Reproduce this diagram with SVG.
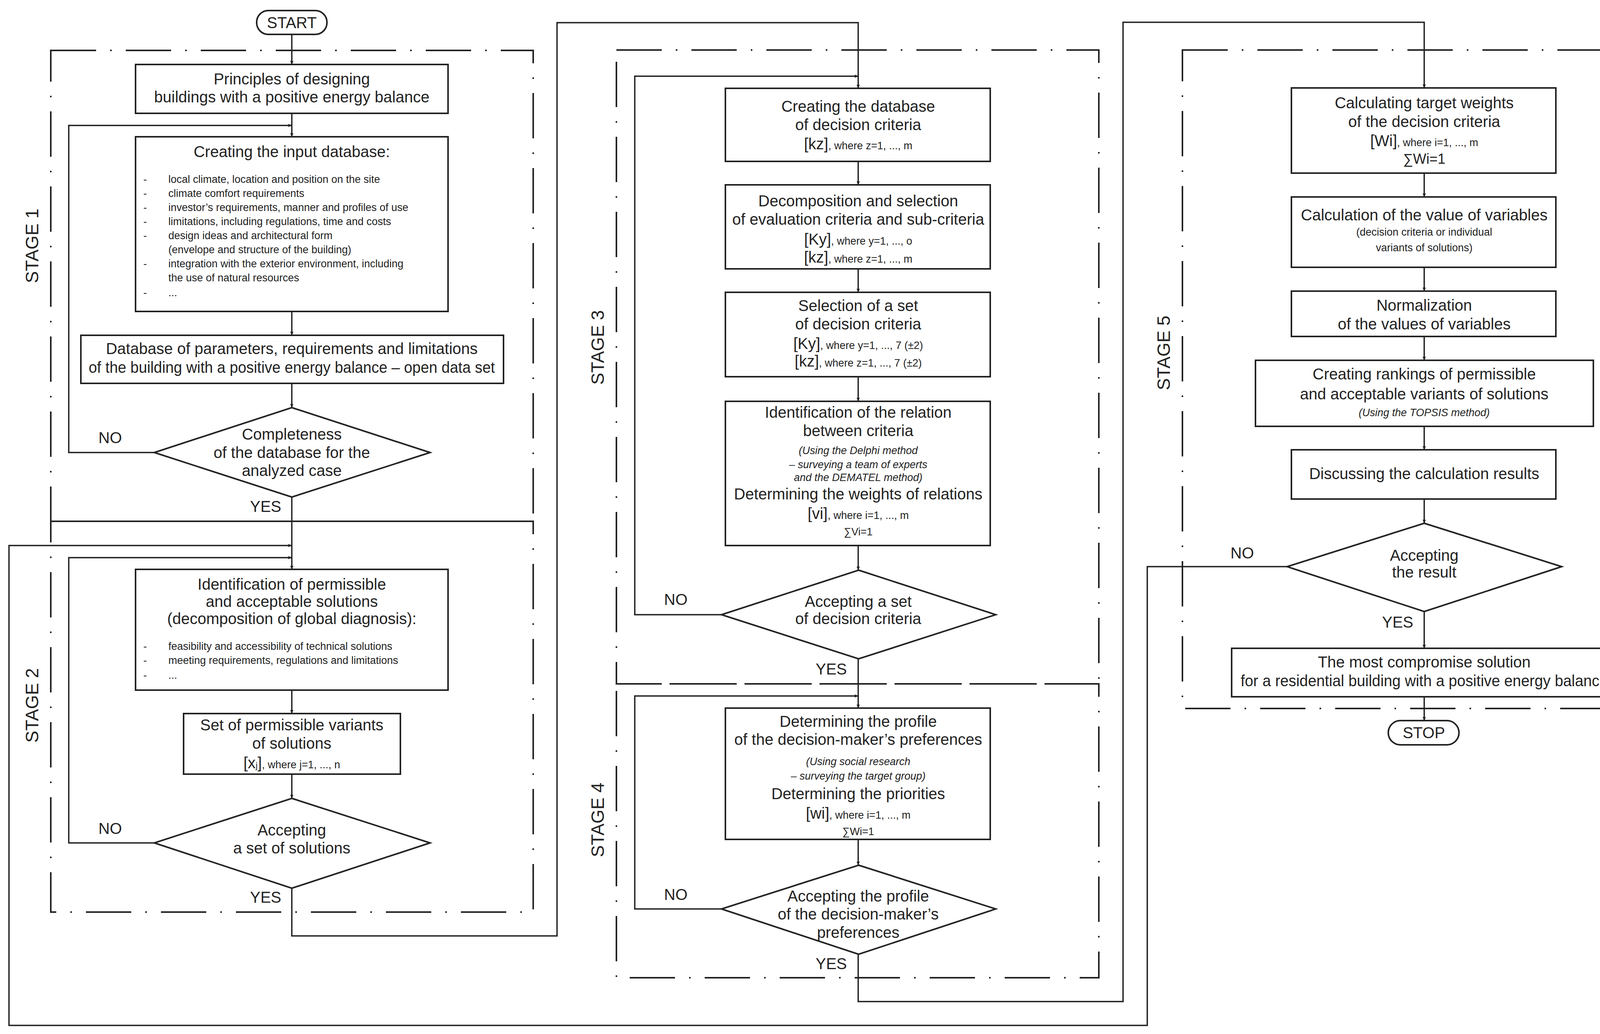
<svg xmlns="http://www.w3.org/2000/svg" width="4288" height="2646" viewBox="0 0 4288 2646">
<style>
.b{fill:#fff;stroke:#222;stroke-width:4}
.f{fill:none;stroke:#222;stroke-width:4;stroke-dasharray:116 36 4 36}
.c{fill:none;stroke:#222;stroke-width:3.5}
text{font-family:"Liberation Sans",Arial,sans-serif;fill:#222}
.t{font-size:40px;text-anchor:middle}
.s{font-size:27px}
.m{font-size:27px;text-anchor:middle}
.i{font-size:27px;text-anchor:middle;font-style:italic}
.st{font-size:46px;text-anchor:middle}
.l{font-size:40px}
</style>
<defs>
<marker id="a" markerWidth="10" markerHeight="10" refX="9" refY="5" orient="auto" markerUnits="userSpaceOnUse" viewBox="0 0 10 10"><path d="M0,1 L10,5 L0,9 Z" fill="#222"/></marker>
</defs>
<g id="frames">
<rect class="f" x="130" y="129" width="1235" height="1205"/>
<rect class="f" x="130" y="1334" width="1235" height="1000"/>
<rect class="f" x="1578" y="128" width="1235" height="1622"/>
<rect class="f" x="1578" y="1750" width="1235" height="752"/>
<rect class="f" x="3027" y="128" width="1235" height="1685"/>
<text class="st" transform="translate(98,629) rotate(-90)">STAGE 1</text>
<text class="st" transform="translate(98,1805) rotate(-90)">STAGE 2</text>
<text class="st" transform="translate(1546,889) rotate(-90)">STAGE 3</text>
<text class="st" transform="translate(1546,2098) rotate(-90)">STAGE 4</text>
<text class="st" transform="translate(2995,903) rotate(-90)">STAGE 5</text>
</g>
<g id="connectors">
<path class="c" marker-end="url(#a)" d="M747,88 V165"/>
<path class="c" marker-end="url(#a)" d="M747,290 V350"/>
<path class="c" marker-end="url(#a)" d="M395,1158 H176 V321 H747"/>
<path class="c" marker-end="url(#a)" d="M747,797 V858"/>
<path class="c" marker-end="url(#a)" d="M747,981 V1043"/>
<path class="c" marker-end="url(#a)" d="M747,1272 V1457"/>
<path class="c" marker-end="url(#a)" d="M3295,1450 H2937 V2624 H23 V1396 H747"/>
<path class="c" marker-end="url(#a)" d="M395,2157 H176 V1427 H747"/>
<path class="c" marker-end="url(#a)" d="M747,1766 V1826"/>
<path class="c" marker-end="url(#a)" d="M747,1981 V2043"/>
<path class="c" marker-end="url(#a)" d="M747,2273 V2395 H1426 V58 H2197 V226"/>
<path class="c" marker-end="url(#a)" d="M1847,1573 H1625 V195 H2197"/>
<path class="c" marker-end="url(#a)" d="M2197,413 V473"/>
<path class="c" marker-end="url(#a)" d="M2197,688 V748"/>
<path class="c" marker-end="url(#a)" d="M2197,964 V1027"/>
<path class="c" marker-end="url(#a)" d="M2197,1396 V1459"/>
<path class="c" marker-end="url(#a)" d="M2197,1686 V1812"/>
<path class="c" marker-end="url(#a)" d="M1847,2326 H1625 V1781 H2197"/>
<path class="c" marker-end="url(#a)" d="M2197,2148 V2214"/>
<path class="c" marker-end="url(#a)" d="M2197,2442 V2563 H2875 V57 H3646 V225"/>
<path class="c" marker-end="url(#a)" d="M3646,443 V504"/>
<path class="c" marker-end="url(#a)" d="M3646,684 V745"/>
<path class="c" marker-end="url(#a)" d="M3646,861 V922"/>
<path class="c" marker-end="url(#a)" d="M3646,1091 V1151"/>
<path class="c" marker-end="url(#a)" d="M3646,1277 V1339"/>
<path class="c" marker-end="url(#a)" d="M3646,1565 V1659"/>
<path class="c" marker-end="url(#a)" d="M3646,1783 V1844"/>
<text class="l" x="252" y="1134">NO</text>
<text class="l" x="640" y="1310">YES</text>
<text class="l" x="252" y="2134">NO</text>
<text class="l" x="640" y="2310">YES</text>
<text class="l" x="1700" y="1548">NO</text>
<text class="l" x="2088" y="1726">YES</text>
<text class="l" x="1700" y="2303">NO</text>
<text class="l" x="2088" y="2480">YES</text>
<text class="l" x="3150" y="1429">NO</text>
<text class="l" x="3538" y="1606">YES</text>
</g>
<g id="start"><rect class="b" x="657" y="27" width="180" height="61" rx="30"/><text class="t" x="747" y="72">START</text></g>
<g id="principles"><rect class="b" x="347" y="165" width="800" height="125"/>
<text class="t" x="747" y="216">Principles of designing</text><text class="t" x="747" y="262">buildings with a positive energy balance</text></g>
<g id="inputdb"><rect class="b" x="347" y="350" width="800" height="447"/>
<text class="t" x="747" y="402">Creating the input database:</text>
<g class="s">
<text x="367" y="468">-</text><text x="431" y="468">local climate, location and position on the site</text>
<text x="367" y="504">-</text><text x="431" y="504">climate comfort requirements</text>
<text x="367" y="540">-</text><text x="431" y="540">investor’s requirements, manner and profiles of use</text>
<text x="367" y="576">-</text><text x="431" y="576">limitations, including regulations, time and costs</text>
<text x="367" y="612">-</text><text x="431" y="612">design ideas and architectural form</text>
<text x="431" y="648">(envelope and structure of the building)</text>
<text x="367" y="684">-</text><text x="431" y="684">integration with the exterior environment, including</text>
<text x="431" y="720">the use of natural resources</text>
<text x="367" y="758">-</text><text x="431" y="758">...</text>
</g></g>
<g id="database"><rect class="b" x="207" y="858" width="1082" height="123"/>
<text class="t" x="747" y="906" font-size="38">Database of parameters, requirements and limitations</text><text class="t" x="747" y="954" font-size="38" textLength="1040" lengthAdjust="spacingAndGlyphs">of the building with a positive energy balance – open data set</text></g>
<g id="d1"><polygon class="b" points="747,1043 1101,1158 747,1272 395,1158"/>
<text class="t" x="747" y="1125">Completeness</text><text class="t" x="747" y="1172">of the database for the</text><text class="t" x="747" y="1218">analyzed case</text></g>
<g id="ident"><rect class="b" x="347" y="1457" width="800" height="309"/>
<text class="t" x="747" y="1509">Identification of permissible</text><text class="t" x="747" y="1553">and acceptable solutions</text><text class="t" x="747" y="1597">(decomposition of global diagnosis):</text>
<g class="s"><text x="367" y="1663">-</text><text x="431" y="1663">feasibility and accessibility of technical solutions</text>
<text x="367" y="1699">-</text><text x="431" y="1699">meeting requirements, regulations and limitations</text>
<text x="367" y="1737">-</text><text x="431" y="1737">...</text></g></g>
<g id="setvar"><rect class="b" x="470" y="1826" width="555" height="155"/>
<text class="t" x="747" y="1869">Set of permissible variants</text><text class="t" x="747" y="1916">of solutions</text>
<text x="747" y="1966" text-anchor="middle"><tspan font-size="40">[x</tspan><tspan font-size="22">j</tspan><tspan font-size="40">]</tspan><tspan font-size="27">, where j=1, ..., n</tspan></text></g>
<g id="d2"><polygon class="b" points="747,2043 1101,2157 747,2273 395,2157"/>
<text class="t" x="747" y="2138">Accepting</text><text class="t" x="747" y="2184">a set of solutions</text></g>
<g id="critdb"><rect class="b" x="1857" y="226" width="678" height="187"/>
<text class="t" x="2197" y="286">Creating the database</text><text class="t" x="2197" y="333">of decision criteria</text>
<text x="2197" y="382" text-anchor="middle"><tspan font-size="40">[kz]</tspan><tspan font-size="27">, where z=1, ..., m</tspan></text></g>
<g id="decomp"><rect class="b" x="1857" y="473" width="678" height="215"/>
<text class="t" x="2197" y="528">Decomposition and selection</text><text class="t" x="2197" y="575">of evaluation criteria and sub-criteria</text>
<text x="2197" y="626" text-anchor="middle"><tspan font-size="40">[Ky]</tspan><tspan font-size="27">, where y=1, ..., o</tspan></text>
<text x="2197" y="672" text-anchor="middle"><tspan font-size="40">[kz]</tspan><tspan font-size="27">, where z=1, ..., m</tspan></text></g>
<g id="selset"><rect class="b" x="1857" y="748" width="678" height="216"/>
<text class="t" x="2197" y="796">Selection of a set</text><text class="t" x="2197" y="843">of decision criteria</text>
<text x="2197" y="893" text-anchor="middle"><tspan font-size="40">[Ky]</tspan><tspan font-size="27">, where y=1, ..., 7 (±2)</tspan></text>
<text x="2197" y="938" text-anchor="middle"><tspan font-size="40">[kz]</tspan><tspan font-size="27">, where z=1, ..., 7 (±2)</tspan></text></g>
<g id="relation"><rect class="b" x="1857" y="1027" width="678" height="369"/>
<text class="t" x="2197" y="1069">Identification of the relation</text><text class="t" x="2197" y="1116">between criteria</text>
<text class="i" x="2197" y="1162">(Using the Delphi method</text><text class="i" x="2197" y="1198">– surveying a team of experts</text><text class="i" x="2197" y="1231">and the DEMATEL method)</text>
<text class="t" x="2197" y="1278">Determining the weights of relations</text>
<text x="2197" y="1328" text-anchor="middle"><tspan font-size="40">[vi]</tspan><tspan font-size="27">, where i=1, ..., m</tspan></text>
<text class="m" x="2197" y="1370">∑Vi=1</text></g>
<g id="d3"><polygon class="b" points="2198,1459 2549,1573 2198,1686 1847,1573"/>
<text class="t" x="2197" y="1553">Accepting a set</text><text class="t" x="2197" y="1597">of decision criteria</text></g>
<g id="profile"><rect class="b" x="1857" y="1812" width="678" height="336"/>
<text class="t" x="2197" y="1860">Determining the profile</text><text class="t" x="2197" y="1906">of the decision-maker’s preferences</text>
<text class="i" x="2197" y="1958">(Using social research</text><text class="i" x="2197" y="1995">– surveying the target group)</text>
<text class="t" x="2197" y="2045">Determining the priorities</text>
<text x="2197" y="2095" text-anchor="middle"><tspan font-size="40">[wi]</tspan><tspan font-size="27">, where i=1, ..., m</tspan></text>
<text class="m" x="2197" y="2137">∑Wi=1</text></g>
<g id="d4"><polygon class="b" points="2198,2214 2549,2326 2198,2442 1847,2326"/>
<text class="t" x="2197" y="2307">Accepting the profile</text><text class="t" x="2197" y="2353">of the decision-maker’s</text><text class="t" x="2197" y="2400">preferences</text></g>
<g id="target"><rect class="b" x="3306" y="225" width="677" height="218"/>
<text class="t" x="3646" y="277">Calculating target weights</text><text class="t" x="3646" y="325">of the decision criteria</text>
<text x="3646" y="374" text-anchor="middle"><tspan font-size="40">[Wi]</tspan><tspan font-size="27">, where i=1, ..., m</tspan></text>
<text x="3646" y="419" text-anchor="middle" font-size="36">∑Wi=1</text></g>
<g id="calcvar"><rect class="b" x="3306" y="504" width="677" height="180"/>
<text class="t" x="3646" y="564">Calculation of the value of variables</text>
<text class="m" x="3646" y="603">(decision criteria or individual</text><text class="m" x="3646" y="643">variants of solutions)</text></g>
<g id="norm"><rect class="b" x="3306" y="745" width="677" height="116"/>
<text class="t" x="3646" y="795">Normalization</text><text class="t" x="3646" y="843">of the values of variables</text></g>
<g id="rank"><rect class="b" x="3214" y="922" width="865" height="169"/>
<text class="t" x="3646" y="971">Creating rankings of permissible</text><text class="t" x="3646" y="1022">and acceptable variants of solutions</text>
<text class="i" x="3646" y="1065">(Using the TOPSIS method)</text></g>
<g id="discuss"><rect class="b" x="3306" y="1151" width="677" height="126"/>
<text class="t" x="3646" y="1226">Discussing the calculation results</text></g>
<g id="d5"><polygon class="b" points="3646,1339 3998,1450 3646,1565 3295,1450"/>
<text class="t" x="3646" y="1435">Accepting</text><text class="t" x="3646" y="1478">the result</text></g>
<g id="final"><rect class="b" x="3153" y="1659" width="986" height="124"/>
<text class="t" x="3646" y="1708" font-size="38">The most compromise solution</text><text class="t" x="3646" y="1756" font-size="38" textLength="940" lengthAdjust="spacingAndGlyphs">for a residential building with a positive energy balance</text></g>
<g id="stop"><rect class="b" x="3554" y="1844" width="181" height="62" rx="31"/><text class="t" x="3645" y="1889">STOP</text></g>
</svg>
